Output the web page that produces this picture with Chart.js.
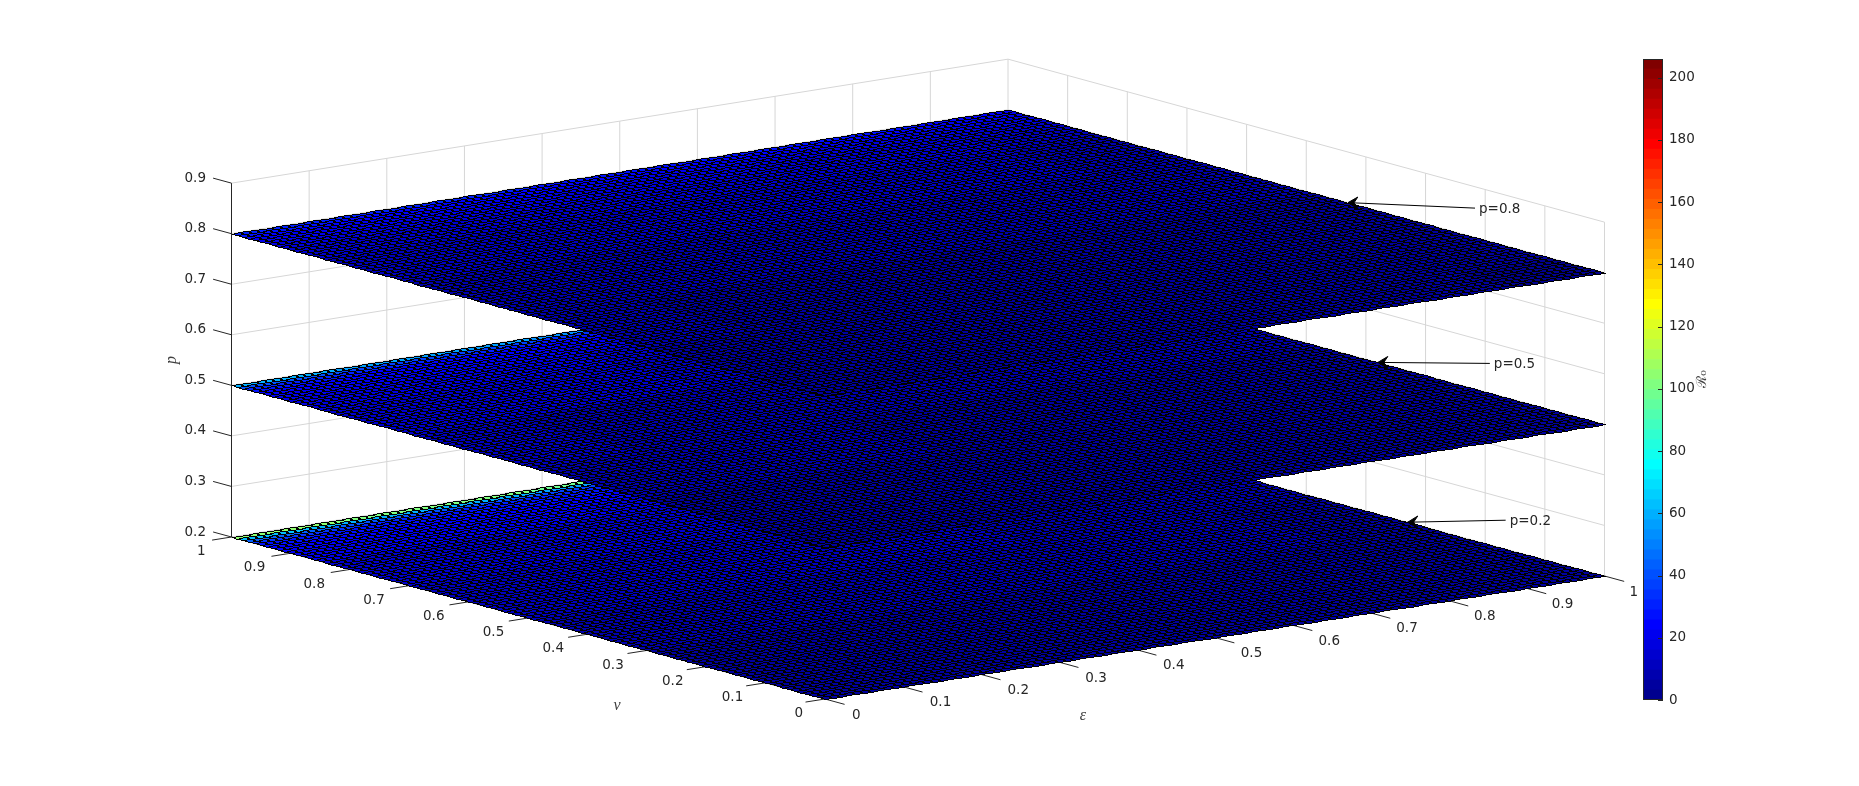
<!DOCTYPE html>
<html>
<head>
<meta charset="utf-8">
<title>Surface</title>
<style>
html,body{margin:0;padding:0;background:#fff;overflow:hidden;width:1859px;height:786px}
canvas{position:absolute;display:block}
#main{left:0;top:0}
#bar{left:1600px;top:40px}
</style>
<script src="https://cdn.jsdelivr.net/npm/chart.js@4"></script>
</head>
<body>
<canvas id="main" width="1859" height="786"></canvas>
<canvas id="bar" width="130" height="680"></canvas>
<script>
// ---------- values ----------
const epsTicks = [0, 0.1, 0.2, 0.3, 0.4, 0.5, 0.6, 0.7, 0.8, 0.9, 1];
const nuTicks  = [0, 0.1, 0.2, 0.3, 0.4, 0.5, 0.6, 0.7, 0.8, 0.9, 1];
const pTicks   = [0.2, 0.3, 0.4, 0.5, 0.6, 0.7, 0.8, 0.9];
const planeLevels = [0.2, 0.5, 0.8];
const colorbarMax = 206;
const colorbarStep = 20;
const colorLevels = 64;
const meshCells = 100;

// estimated surface heights (colour value) at sampled nu (rows) and eps (columns)
const nuSamples  = [1.00, 0.99, 0.98, 0.97, 0.96, 0.94, 0.90, 0.80, 0.60, 0.40, 0.20, 0.00];
const epsSamples = [0, 0.25, 0.5, 0.75, 1];
const valuesP02 = [
  [104, 102, 98, 60, 30],
  [ 62,  60, 56, 40, 26],
  [ 42,  40, 38, 30, 24],
  [ 33,  32, 30, 26, 22],
  [ 28,  27, 26, 24, 20],
  [ 25,  24, 23, 21, 18],
  [ 21,  20, 19, 17, 15],
  [ 16,  15, 14, 13, 11],
  [ 11,  11, 10,  9,  8],
  [  8,   8,  7,  7,  6],
  [  6,   6,  6,  5,  5],
  [  5,   5,  4,  4,  4]];
const valuesP05 = [
  [ 58,  56, 52, 40, 28],
  [ 40,  38, 34, 30, 24],
  [ 30,  29, 27, 25, 22],
  [ 26,  25, 24, 22, 20],
  [ 24,  23, 22, 20, 18],
  [ 21,  20, 19, 18, 16],
  [ 18,  17, 16, 15, 13],
  [ 14,  13, 12, 11, 10],
  [ 10,   9,  9,  8,  7],
  [  7,   7,  6,  6,  5],
  [  6,   5,  5,  5,  4],
  [  5,   4,  4,  4,  4]];
const valuesP08 = [
  [ 30,  29, 28, 26, 24],
  [ 26,  25, 24, 23, 22],
  [ 24,  23, 22, 21, 20],
  [ 22,  21, 20, 19, 18],
  [ 21,  20, 19, 18, 17],
  [ 19,  18, 17, 16, 15],
  [ 16,  15, 14, 13, 12],
  [ 12,  11, 10, 10,  9],
  [  9,   8,  8,  7,  7],
  [  7,   6,  6,  5,  5],
  [  5,   5,  5,  4,  4],
  [  4,   4,  4,  4,  3]];
const planeValues = [valuesP02, valuesP05, valuesP08];

// annotations: plane level, and the nu where the arrow meets the eps = 1 edge
const annotationTexts = ['p=0.8', 'p=0.5', 'p=0.2'];
const annotationLevels = [0.8, 0.5, 0.2];
const annotationNu = [0.43, 0.38, 0.33];

// ---------- view (3-D view onto a figure-sized scale) ----------
const view = {x0: 825, y0: 699, ex: 779.5, ey: -123, nx: -593.5, ny: -162, kx: -3, ky: -1, pz: -505.5, pBase: 0.2};
function project(e, n, p) {
  return {
    x: view.x0 + e * view.ex + n * view.nx + e * n * view.kx,
    y: view.y0 + e * view.ey + n * view.ny + e * n * view.ky + (p - view.pBase) * view.pz
  };
}
function jet(i) {
  const t = (i + 1) / colorLevels;
  const c = v => Math.max(0, Math.min(1, v));
  return [c(Math.min(4*t - 1.5, -4*t + 4.5)), c(Math.min(4*t - 0.5, -4*t + 3.5)), c(Math.min(4*t + 0.5, -4*t + 2.5))]
    .map(v => Math.round(v * 255));
}
function levelOf(v) {
  return Math.max(0, Math.min(colorLevels - 1, Math.floor(v / colorbarMax * colorLevels)));
}
function nearestIndex(list, v) {
  let best = 0;
  list.forEach((s, k) => { if (Math.abs(s - v) < Math.abs(list[best] - v)) best = k; });
  return best;
}

// ---------- datasets ----------
const GRID = '#d6d6d6', INK = '#262626';
function seg(points, color, order, width) {
  return {type:'scatter', showLine:true, data:points, borderColor:color, borderWidth:width||1,
          pointRadius:0, pointHoverRadius:0, order:order, fill:false, tension:0};
}
const datasets = [];
// back walls
epsTicks.forEach(e => datasets.push(seg([project(e,1,0.2), project(e,1,0.9)], e === 0 ? INK : GRID, e === 0 ? 9 : 10)));
nuTicks.forEach(n => { if (n < 1) datasets.push(seg([project(1,n,0.2), project(1,n,0.9)], GRID, 10)); });
pTicks.forEach(p => datasets.push(seg([project(0,1,p), project(1,1,p), project(1,0,p)], GRID, 10)));
// axis lines and ticks
datasets.push(seg([project(0,1,0.2), project(0,0,0.2), project(1,0,0.2)], INK, 8));
epsTicks.forEach(e => datasets.push(seg([project(e,0,0.2), project(e,-0.033,0.2)], INK, 8)));
nuTicks.forEach(n => datasets.push(seg([project(0,n,0.2), project(-0.025,n,0.2)], INK, 8)));
pTicks.forEach(p => datasets.push(seg([project(0,1,p), project(0,1.031,p)], INK, 8)));
// surfaces: vertices go through the scales, the mesh plugin rasterises them
planeLevels.forEach((p, k) => {
  const pts = [];
  for (let i = 0; i <= meshCells; i++) for (let j = 0; j <= meshCells; j++) pts.push(project(i/meshCells, j/meshCells, p));
  datasets.push({type:'scatter', data:pts, pointRadius:0, pointHoverRadius:0, showLine:false, order:7-k, meshValues:planeValues[k]});
});
// annotation arrows
const annotationOffsets = [[127, 5.5], [112, 1], [98, -2]];
annotationTexts.forEach((t, k) => {
  const tip = project(1, annotationNu[k], annotationLevels[k]);
  const tail = {x: tip.x + annotationOffsets[k][0], y: tip.y + annotationOffsets[k][1]};
  datasets.push(seg([tip, tail], '#000', 2, 1));
  const dx = tail.x - tip.x, dy = tail.y - tip.y, L = Math.hypot(dx, dy), ux = dx/L, uy = dy/L;
  const head = [tip,
    {x: tip.x + ux*10 - uy*5, y: tip.y + uy*10 - ux*6},
    {x: tip.x + ux*6, y: tip.y + uy*6},
    {x: tip.x + ux*10 + uy*5, y: tip.y + uy*10 + ux*6},
    tip];
  const h = seg(head, '#000', 1, 1);
  h.fill = 'shape'; h.backgroundColor = '#000';
  datasets.push(h);
});

// ---------- mesh rasteriser (flat cells with aliased black edges) ----------
function drawMesh(chart, ds, meta) {
  const W = chart.width, H = chart.height, ctx = chart.ctx;
  const off = document.createElement('canvas'); off.width = W; off.height = H;
  const oc = off.getContext('2d');
  const img = oc.createImageData(W, H), buf = new Uint32Array(img.data.buffer);
  const N = meshCells + 1, els = meta.data;
  const X = k => els[k].x, Y = k => els[k].y;
  const table = ds.meshValues;
  const palette = [];
  for (let i = 0; i < colorLevels; i++) { const c = jet(i); palette.push((255<<24)|(c[2]<<16)|(c[1]<<8)|c[0]); }
  const rowIdx = [], colIdx = [];
  for (let j = 0; j < N; j++) rowIdx.push(nearestIndex(nuSamples, j/meshCells));
  for (let i = 0; i < N; i++) colIdx.push(nearestIndex(epsSamples, i/meshCells));
  function fill(xs, ys, col) {
    const y0 = Math.max(0, Math.ceil(Math.min(...ys) - 0.5)), y1 = Math.min(H-1, Math.floor(Math.max(...ys) + 0.5));
    for (let y = y0; y <= y1; y++) {
      let a = Infinity, b = -Infinity;
      for (let m = 0; m < 4; m++) {
        const n = (m+1)%4, ya = ys[m], yb = ys[n];
        if ((ya <= y && yb >= y) || (yb <= y && ya >= y)) {
          if (ya === yb) { a = Math.min(a, xs[m], xs[n]); b = Math.max(b, xs[m], xs[n]); }
          else { const x = xs[m] + (y-ya)/(yb-ya)*(xs[n]-xs[m]); a = Math.min(a,x); b = Math.max(b,x); }
        }
      }
      if (a > b) continue;
      for (let x = Math.round(a); x <= Math.round(b); x++) buf[y*W + x] = col;
    }
  }
  function line(x0, y0, x1, y1) {
    x0 = Math.round(x0); y0 = Math.round(y0); x1 = Math.round(x1); y1 = Math.round(y1);
    const dx = Math.abs(x1-x0), dy = -Math.abs(y1-y0), sx = x0<x1?1:-1, sy = y0<y1?1:-1;
    let err = dx+dy;
    for (;;) {
      buf[y0*W + x0] = 0xff000000;
      if (x0 === x1 && y0 === y1) break;
      const e2 = 2*err;
      if (e2 >= dy) { err += dy; x0 += sx; }
      if (e2 <= dx) { err += dx; y0 += sy; }
    }
  }
  for (let i = 0; i < meshCells; i++) for (let j = 0; j < meshCells; j++) {
    const a = i*N+j, b = (i+1)*N+j, c = (i+1)*N+j+1, d = i*N+j+1;
    const v = table[rowIdx[j+1]][colIdx[i]];
    fill([X(a),X(b),X(c),X(d)], [Y(a),Y(b),Y(c),Y(d)], palette[levelOf(v)]);
  }
  for (let i = 0; i < N; i++) for (let j = 0; j < meshCells; j++) { const a = i*N+j; line(X(a),Y(a),X(a+1),Y(a+1)); }
  for (let j = 0; j < N; j++) for (let i = 0; i < meshCells; i++) { const a = i*N+j; line(X(a),Y(a),X(a+N),Y(a+N)); }
  oc.putImageData(img, 0, 0);
  ctx.drawImage(off, 0, 0);
}

const meshPlugin = {
  id: 'mesh',
  afterDatasetDraw(chart, args) {
    const ds = chart.data.datasets[args.index];
    if (ds.meshValues) drawMesh(chart, ds, args.meta);
  }
};
const labelPlugin = {
  id: 'labels3d',
  afterDraw(chart) {
    const ctx = chart.ctx, sx = chart.scales.x, sy = chart.scales.y;
    const P = q => ({x: sx.getPixelForValue(q.x), y: sy.getPixelForValue(q.y)});
    ctx.save();
    ctx.fillStyle = INK; ctx.textBaseline = 'middle';
    ctx.font = '13.5px "DejaVu Sans"';
    ctx.textAlign = 'left';
    epsTicks.forEach(e => { const q = P(project(e,0,0.2)); ctx.fillText(String(e), q.x + 27 - 2*e, q.y + 16); });
    ctx.textAlign = 'right';
    nuTicks.forEach(n => { const q = P(project(0,n,0.2)); ctx.fillText(String(n), q.x - 22 - 4*n, q.y + 14.7); });
    pTicks.forEach(p => { const q = P(project(0,1,p)); ctx.fillText(String(p), q.x - 25.5, q.y - 5); });
    ctx.textAlign = 'left';
    annotationTexts.forEach((t, k) => {
      const tip = P(project(1, annotationNu[k], annotationLevels[k]));
      ctx.fillText(t, tip.x + annotationOffsets[k][0] + 4, tip.y + annotationOffsets[k][1] + 1.5);
    });
    ctx.textAlign = 'center';
    ctx.fillStyle = '#404040';
    ctx.font = 'italic 16px "Liberation Serif"';
    ctx.fillText('\u03BD', 617, 706);
    ctx.fillText('\u03B5', 1083, 716);
    ctx.translate(172, 360); ctx.rotate(-Math.PI/2);
    ctx.fillText('p', 0, 0);
    ctx.restore();
  }
};

new Chart(document.getElementById('main'), {
  type: 'scatter',
  data: {datasets},
  options: {
    responsive: false, animation: false, devicePixelRatio: 1,
    layout: {padding: 0},
    events: [],
    plugins: {legend: {display:false}, tooltip: {enabled:false}},
    scales: {
      x: {type:'linear', min:0, max:1859, display:false},
      y: {type:'linear', min:0, max:786, reverse:true, display:false}
    }
  },
  plugins: [meshPlugin, labelPlugin]
});

// ---------- colour bar ----------
const barSets = [];
for (let i = 0; i < colorLevels; i++) {
  const c = jet(i);
  barSets.push({data:[colorbarMax/colorLevels], backgroundColor:`rgb(${c[0]},${c[1]},${c[2]})`, borderWidth:0, barPercentage:1, categoryPercentage:1, stack:'s'});
}
const barPlugin = {
  id: 'barFrame',
  afterDraw(chart) {
    const a = chart.chartArea, ctx = chart.ctx, s = chart.scales.y;
    ctx.save();
    ctx.strokeStyle = INK; ctx.lineWidth = 1;
    ctx.strokeRect(Math.round(a.left)+0.5, Math.round(a.top)+0.5, Math.round(a.right-a.left)-1, Math.round(a.bottom-a.top)-1);
    s.ticks.forEach(t => {
      const y = Math.round(s.getPixelForValue(t.value)) + 0.5;
      ctx.beginPath(); ctx.moveTo(a.right, y); ctx.lineTo(a.right - 5, y); ctx.stroke();
    });
    ctx.fillStyle = '#404040';
    ctx.font = '14px "DejaVu Serif"';
    ctx.textAlign = 'center'; ctx.textBaseline = 'middle';
    ctx.translate(102, 339); ctx.rotate(-Math.PI/2);
    ctx.fillText('\u211B\u2080', 0, 0);
    ctx.restore();
  }
};
new Chart(document.getElementById('bar'), {
  type: 'bar',
  data: {labels: ['R'], datasets: barSets},
  options: {
    responsive: false, animation: false, devicePixelRatio: 1,
    layout: {padding: {left:43, top:19, bottom:20, right:0}},
    events: [],
    plugins: {legend:{display:false}, tooltip:{enabled:false}},
    scales: {
      x: {display:false, stacked:true},
      y: {
        position:'right', stacked:true, min:0, max:colorbarMax,
        grid:{drawOnChartArea:false, drawTicks:false}, border:{display:false},
        ticks:{stepSize:colorbarStep, includeBounds:false, padding:6, color:INK, font:{family:'"DejaVu Sans"', size:13.5}},
        afterFit(scale){ scale.width = 67; }
      }
    }
  },
  plugins: [barPlugin]
});
</script>
</body>
</html>
